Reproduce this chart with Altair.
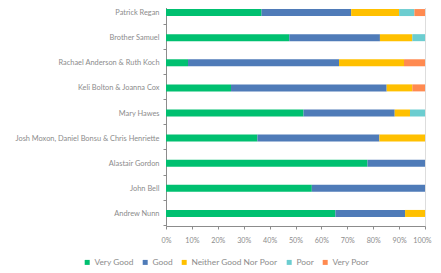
import altair as alt
import pandas as pd

names = ["Patrick Regan", "Brother Samuel", "Rachael Anderson & Ruth Koch",
         "Keli Bolton & Joanna Cox", "Mary Hawes",
         "Josh Moxon, Daniel Bonsu & Chris Henriette", "Alastair Gordon",
         "John Bell", "Andrew Nunn"]
categories = ["Very Good", "Good", "Neither Good Nor Poor", "Poor", "Very Poor"]
very_good = [36.9, 47.6, 8.5, 25.1, 53.1, 35.3, 77.8, 56.3, 65.4]
good = [34.6, 35.0, 58.3, 60.1, 35.2, 47.1, 22.2, 43.7, 26.9]
neither = [18.5, 12.5, 25.1, 9.9, 5.9, 17.6, 0, 0, 7.7]
poor = [5.9, 4.9, 0, 0, 5.8, 0, 0, 0, 0]
very_poor = [4.1, 0, 8.1, 4.9, 0, 0, 0, 0, 0]
colors = ["#00C070", "#4F7BB8", "#FFC000", "#6CCDD0", "#FF8A50"]

series = [very_good, good, neither, poor, very_poor]
rows = []
for ci, (cat, vals) in enumerate(zip(categories, series)):
    for n, v in zip(names, vals):
        rows.append({"name": n, "category": cat, "order": ci, "value": v / 100.0})
df = pd.DataFrame(rows)

font = "Lato"
gray = "#8c8c8c"

chart = alt.Chart(df).mark_bar(size=7).encode(
    y=alt.Y("name:N", sort=names, title=None,
            axis=alt.Axis(tickBand="extent", tickSize=3, labelPadding=4,
                          labelFont=font, labelFontSize=7.4, labelColor=gray,
                          domainColor=gray, tickColor=gray, labelLimit=300)),
    x=alt.X("value:Q", stack="zero", title=None,
            scale=alt.Scale(domain=[0, 1], nice=False),
            axis=alt.Axis(format="%", values=[i / 10 for i in range(11)],
                          grid=False, tickSize=3, labelPadding=7,
                          labelFont=font, labelFontSize=7.2, labelColor=gray,
                          labelOffset={"condition": {"test": "datum.value >= 1", "value": -3},
                                       "value": 0},
                          domainColor=gray, tickColor=gray, labelFlush=False)),
    color=alt.Color("category:N", sort=categories,
                    scale=alt.Scale(domain=categories, range=colors),
                    legend=alt.Legend(title=None, orient="none", direction="horizontal",
                                      legendX=-83, legendY=258, symbolType="square",
                                      symbolSize=25, labelFont=font, labelFontSize=8.4,
                                      labelColor=gray, labelOffset=3, columnPadding=7,
                                      symbolStrokeWidth=0)),
    order=alt.Order("order:Q"),
).properties(
    width=259, height=226,
    autosize=alt.AutoSizeParams(type="none"),
    padding={"left": 158, "top": -8, "right": 8, "bottom": 40},
).configure_view(stroke=None).configure(background="white")

chart.save("out.html", embed_options={"renderer": "svg", "actions": False})
